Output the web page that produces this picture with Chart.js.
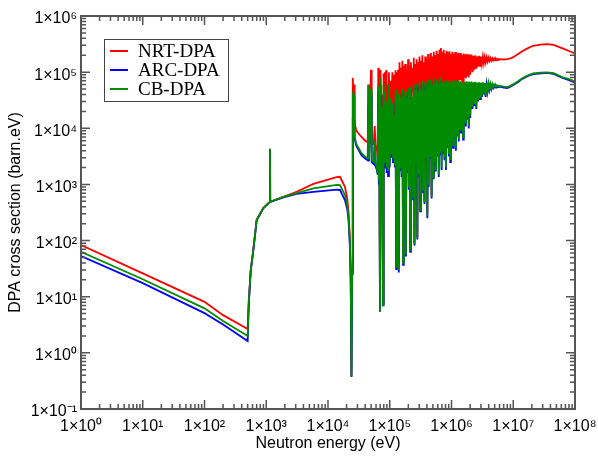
<!DOCTYPE html>
<html>
<head>
<meta charset="utf-8">
<script src="https://cdn.jsdelivr.net/npm/chart.js@4.4.1/dist/chart.umd.min.js"></script>
<style>
  html, body { margin: 0; padding: 0; background: #fff; }
</style>
</head>
<body>
<canvas id="stage" width="598" height="457"></canvas>
<script>
// neutron energy (eV), shared by the three curves
const energy = [
  1, 10, 100, 200, 500, 520, 560, 617, 700, 895,
  1140, 1150, 1160, 1900, 3100, 5800, 13800, 15600, 18800, 20500,
  21500, 22500, 23300, 24000, 24600, 25200, 25800, 26400, 27000, 28500,
  30000, 35000, 40000, 44000, 45000, 46000, 49700, 51000, 55000, 57000,
  59000, 62000, 63500, 65300, 66500, 68000, 69500, 71000, 72500, 74000,
  75500, 77800, 79500, 81000, 83000, 85000, 87000, 89000, 92000, 94000,
  97000, 100000, 103000, 106000, 110000, 113000, 117000, 121000, 124000, 127000,
  130000, 133000, 136000,
  140000, 143800, 147700, 151700, 155800, 160000, 164300, 168700, 173300, 178000,
  182800, 187700, 192800, 198000, 203300, 208800, 214400, 220200, 226100, 232200,
  238500, 244900, 251500, 258300, 265300, 272400, 279800, 287300, 295100, 303000,
  311200, 319600, 328200, 337100, 346200, 355500, 365100, 375000, 385100, 395500,
  406200, 417100, 428400, 440000, 451800, 464000, 476500, 489400, 502600, 516100,
  530100, 544400, 559100, 574200, 589700, 605600, 621900, 638700, 655900, 673600,
  691800, 710500, 729700, 749400, 769600, 790400, 811700, 833600, 856100, 879200,
  902900, 927300, 952300, 978000, 1004000, 1031000, 1059000, 1088000, 1117000, 1147000,
  1178000, 1210000, 1243000, 1276000, 1311000, 1346000, 1382000, 1420000, 1458000, 1497000,
  1538000, 1579000, 1622000, 1665000, 1710000, 1757000, 1804000, 1853000, 1903000, 1954000,
  2007000,
  2110000, 2190000, 2270000, 2350000, 2430000, 2520000, 2610000, 2700000, 2800000, 2900000,
  3000000, 3110000, 3220000, 3340000, 3450000, 3580000, 3710000, 3840000, 3970000, 4110000,
  4260000, 4410000, 4570000, 4730000, 4900000, 5070000, 5250000, 5440000, 5630000, 5830000,
  6040000,
  7000000, 8000000, 9000000, 10000000, 12000000, 14000000, 17000000, 21000000, 28000000, 35000000,
  45000000, 63000000, 80000000, 100000000
];

// DPA cross sections (barn.eV)
const nrtDpa = [
  83, 26, 8.1, 4.7, 2.66, 8, 30, 68, 235, 380,
  490, 4300, 490, 600, 740, 1020, 1350, 1370, 910, 560,
  330, 120, 30, 0.4, 30, 79000, 40000, 60000, 12000, 9500,
  8500, 7000, 6000, 5600, 60000, 5500, 110000, 5300, 5200, 11000,
  5000, 4200, 3000, 120000, 2500, 3000, 6, 110000, 2500, 40000,
  2000, 7.6, 95000, 3000, 100000, 4000, 108000, 3000, 60000, 2500,
  100000, 3500, 70000, 5000, 100000, 4000, 90000, 3000, 108000, 34,
  100000, 6000, 110000,
  32, 150000, 30000, 120000, 25000, 160000, 45, 130000, 35000, 140000,
  60, 110000, 28000, 170000, 40000, 130000, 70, 150000, 30000, 120000,
  45000, 180000, 90, 140000, 38000, 170000, 115, 150000, 30000, 190000,
  360, 160000, 42000, 200000, 35000, 150000, 500, 190000, 45000, 170000,
  300, 210000, 40000, 180000, 50000, 220000, 650, 190000, 1400, 230000,
  45000, 200000, 1900, 240000, 55000, 210000, 40000, 250000, 60000, 270000,
  50000, 230000, 60000, 250000, 45000, 215000, 4200, 240000, 55000, 225000,
  60000, 235000, 6500, 210000, 65000, 230000, 55000, 215000, 70000, 228000,
  8500, 215000, 65000, 222000, 70000, 210000, 75000, 220000, 70000, 205000,
  11000, 215000, 80000, 205000, 78000, 212000, 85000, 205000, 80000, 208000,
  90000,
  205000, 100000, 195000, 110000, 200000, 115000, 190000, 125000, 195000, 130000,
  190000, 140000, 188000, 145000, 185000, 150000, 183000, 155000, 180000, 158000,
  178000, 160000, 176000, 162000, 175000, 163000, 173000, 164000, 172000, 165000,
  170000,
  168000, 170000, 175000, 185000, 210000, 235000, 265000, 295000, 310000, 316000,
  305000, 265000, 238000, 216000
];
const arcDpa = [
  53, 17.5, 5.1, 3.2, 1.62, 7, 28, 66, 230, 375,
  485, 4250, 485, 590, 680, 740, 810, 800, 525, 360,
  230, 90, 20, 0.37, 25, 16000, 12000, 14000, 6500, 5000,
  4500, 3300, 2900, 2700, 25000, 2600, 40000, 2500, 2300, 5000,
  2100, 1800, 1500, 45000, 1000, 1500, 5.4, 60000, 1800, 15000,
  1500, 7, 40000, 2000, 30000, 2500, 20000, 1600, 15000, 1400,
  40000, 2000, 25000, 3000, 20000, 2500, 12000, 2000, 30000, 31,
  30000, 2500, 25000,
  27, 36000, 1800, 30000, 1350, 42000, 37, 32000, 2250, 38000,
  52, 28000, 1600, 45000, 800, 34000, 63, 47000, 2000, 31000,
  540, 52000, 82, 41000, 2250, 53000, 104, 38000, 1350, 56000,
  330, 43000, 2500, 60000, 720, 41000, 450, 57000, 2700, 47000,
  250, 62000, 900, 50000, 2900, 64000, 560, 52000, 1280, 67000,
  2250, 56000, 1700, 62000, 3150, 54000, 1350, 66000, 3400, 70000,
  1800, 57000, 3600, 62000, 2700, 55000, 1800, 61000, 4500, 58000,
  3150, 63000, 2500, 56000, 5400, 61000, 4500, 58000, 6300, 62000,
  4000, 59000, 7200, 62000, 5800, 59000, 8500, 62000, 8100, 58000,
  6300, 61000, 11700, 59000, 10800, 62000, 14400, 60000, 9900, 61000,
  15300,
  63000, 22000, 61000, 25000, 62000, 22000, 60000, 30000, 62000, 33000,
  60000, 36000, 61000, 40000, 60000, 36000, 60000, 45000, 59000, 48000,
  59000, 50000, 58000, 52000, 57000, 53000, 56000, 54000, 56000, 54000,
  55000,
  53000, 52000, 55000, 59000, 67000, 76000, 85000, 92000, 95000, 97000,
  93000, 79000, 72000, 65000
];
const cbDpa = [
  63, 20.5, 6.2, 3.7, 2.0, 7.5, 29, 68, 235, 380,
  490, 4300, 490, 600, 700, 850, 980, 970, 650, 420,
  270, 100, 25, 0.38, 28, 45000, 25000, 40000, 7000, 5400,
  4800, 3600, 3100, 2900, 59000, 2800, 50000, 2700, 2500, 6000,
  2300, 2000, 1600, 55000, 1200, 1700, 5.5, 78000, 2000, 25000,
  1600, 7.2, 60000, 2500, 45000, 3000, 30000, 2000, 20000, 1800,
  60000, 2500, 35000, 3500, 28000, 3000, 18000, 2200, 45000, 34,
  50000, 2800, 40000,
  30, 42000, 2000, 35000, 1500, 50000, 40, 38000, 2500, 45000,
  57, 33000, 1800, 52000, 900, 40000, 68, 55000, 2200, 36000,
  600, 60000, 87, 48000, 2500, 62000, 112, 45000, 1500, 65000,
  350, 50000, 2800, 70000, 800, 48000, 480, 66000, 3000, 55000,
  270, 72000, 1000, 58000, 3200, 75000, 600, 60000, 1350, 78000,
  2500, 65000, 1800, 72000, 3500, 62000, 1500, 76000, 3800, 80000,
  2000, 66000, 4000, 72000, 3000, 63000, 2000, 70000, 5000, 66000,
  3500, 72000, 2800, 64000, 6000, 70000, 5000, 66000, 7000, 71000,
  4500, 67000, 8000, 70000, 6500, 66000, 9500, 69000, 9000, 65000,
  7000, 68000, 13000, 66000, 12000, 69000, 16000, 67000, 11000, 68000,
  17000,
  68000, 24000, 66000, 27000, 67000, 24000, 65000, 32000, 66000, 35000,
  65000, 38000, 66000, 42000, 64000, 38000, 64000, 47000, 63000, 50000,
  62000, 52000, 61000, 54000, 60000, 55000, 59000, 56000, 58000, 56000,
  57000,
  55000, 54000, 57000, 61000, 69000, 78000, 87000, 95000, 98000, 99000,
  96000, 81000, 75000, 68000
];

const seriesNames = ['NRT-DPA', 'ARC-DPA', 'CB-DPA'];
const seriesColors = ['#ff0000', '#0000ff', '#008b00'];

const xTickValues = [1, 10, 100, 1e3, 1e4, 1e5, 1e6, 1e7, 1e8];
const xTickLabels = ['1×10⁰', '1×10¹', '1×10²', '1×10³', '1×10⁴', '1×10⁵', '1×10⁶', '1×10⁷', '1×10⁸'];
const yTickValues = [0.1, 1, 10, 100, 1e3, 1e4, 1e5, 1e6];
const yTickLabels = ['1×10⁻¹', '1×10⁰', '1×10¹', '1×10²', '1×10³', '1×10⁴', '1×10⁵', '1×10⁶'];

function toPoints(values) {
  return energy.map((e, i) => ({ x: e, y: values[i] }));
}

// frame + inward ticks on all four sides
const frameTicks = {
  id: 'frameTicks',
  afterDatasetsDraw(chart) {
    const { ctx, chartArea: a, scales } = chart;
    ctx.save();
    ctx.strokeStyle = '#555';
    ctx.lineWidth = 1.5;
    ctx.beginPath();
    const tick = (scale, v, len) => {
      const p = scale.getPixelForValue(v);
      if (scale.isHorizontal()) {
        ctx.moveTo(p, a.bottom); ctx.lineTo(p, a.bottom - len);
        ctx.moveTo(p, a.top); ctx.lineTo(p, a.top + len);
      } else {
        ctx.moveTo(a.left, p); ctx.lineTo(a.left + len, p);
        ctx.moveTo(a.right, p); ctx.lineTo(a.right - len, p);
      }
    };
    [[scales.x, xTickValues], [scales.y, yTickValues]].forEach(([scale, decades]) => {
      decades.forEach((d, i) => {
        tick(scale, d, 9);
        if (i < decades.length - 1) {
          for (let k = 2; k <= 9; k++) tick(scale, d * k, 5);
        }
      });
    });
    ctx.stroke();
    ctx.lineWidth = 2;
    ctx.strokeRect(a.left, a.top, a.right - a.left, a.bottom - a.top);
    ctx.restore();
  }
};

// boxed legend inside the plot, upper left
const boxLegend = {
  id: 'boxLegend',
  afterDraw(chart) {
    const { ctx, chartArea: a } = chart;
    const x0 = a.left + 23, y0 = a.top + 23;
    ctx.save();
    ctx.fillStyle = '#fff';
    ctx.fillRect(x0, y0, 124, 62);
    ctx.strokeStyle = '#444';
    ctx.lineWidth = 1;
    ctx.strokeRect(x0 + 0.5, y0 + 0.5, 124, 62);
    ctx.font = '19px "Liberation Serif", "Times New Roman", serif';
    ctx.textBaseline = 'middle';
    seriesNames.forEach((name, i) => {
      const y = y0 + 12 + i * 19;
      ctx.strokeStyle = seriesColors[i];
      ctx.lineWidth = 2;
      ctx.beginPath();
      ctx.moveTo(x0 + 6, y); ctx.lineTo(x0 + 24, y);
      ctx.stroke();
      ctx.fillStyle = '#000';
      ctx.fillText(name, x0 + 34, y + 1);
    });
    ctx.restore();
  }
};

const datasets = [nrtDpa, arcDpa, cbDpa].map((vals, i) => ({
  label: seriesNames[i],
  data: toPoints(vals),
  borderColor: seriesColors[i],
  backgroundColor: seriesColors[i],
  borderWidth: 1.8,
  pointRadius: 0,
  tension: 0,
  fill: false,
  order: 3 - i
}));

const axisFont = { family: '"Liberation Sans", Arial, Helvetica, sans-serif', size: 16 };

new Chart(document.getElementById('stage'), {
  type: 'line',
  data: { datasets: datasets },
  options: {
    responsive: false,
    animation: false,
    events: [],
    layout: { padding: { left: 0, right: 23, top: 16, bottom: 0 } },
    plugins: { legend: { display: false }, tooltip: { enabled: false } },
    scales: {
      x: {
        type: 'logarithmic',
        min: 1,
        max: 1e8,
        afterBuildTicks: s => { s.ticks = xTickValues.map(v => ({ value: v })); },
        afterFit: s => { s.height = 48; s.paddingLeft = 0; s.paddingRight = 0; },
        grid: { display: false, drawTicks: false },
        border: { display: false },
        ticks: {
          autoSkip: false, maxRotation: 0, padding: 8,
          color: '#000', font: axisFont,
          callback: (v, i) => xTickLabels[i]
        },
        title: {
          display: true, text: 'Neutron energy (eV)',
          color: '#000', font: axisFont, padding: { top: 0, bottom: 4 }
        }
      },
      y: {
        type: 'logarithmic',
        min: 0.1,
        max: 1e6,
        afterBuildTicks: s => { s.ticks = yTickValues.map(v => ({ value: v })); },
        afterFit: s => { s.width = 81; s.paddingTop = 0; s.paddingBottom = 0; },
        grid: { display: false, drawTicks: false },
        border: { display: false },
        ticks: {
          autoSkip: false, padding: 4, labelOffset: 3,
          color: '#000', font: axisFont,
          callback: (v, i) => yTickLabels[i]
        },
        title: {
          display: true, text: 'DPA cross section (barn.eV)',
          color: '#000', font: axisFont, padding: { top: 6, bottom: 0 }
        }
      }
    }
  },
  plugins: [frameTicks, boxLegend]
});
</script>
</body>
</html>
